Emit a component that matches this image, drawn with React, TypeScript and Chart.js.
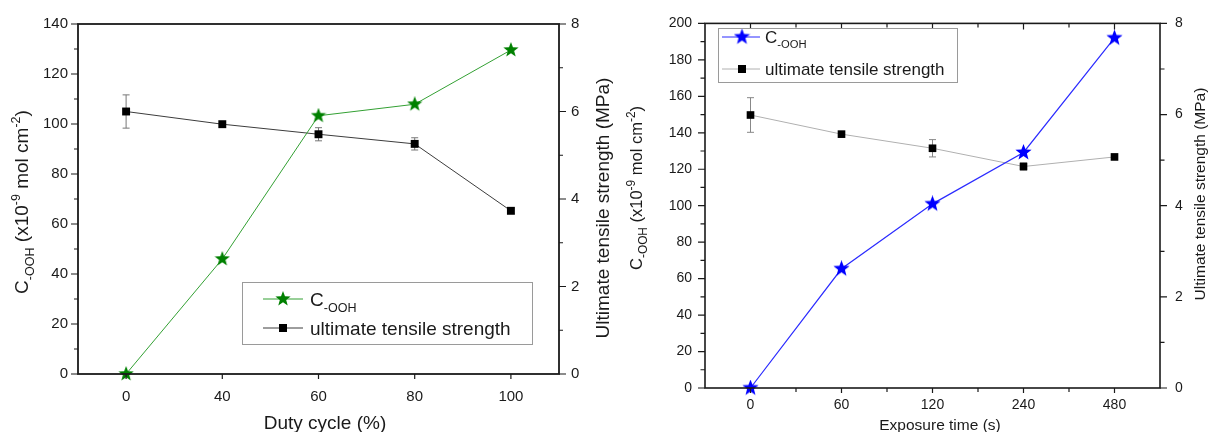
import React, { useEffect, useRef } from 'react';
import { Chart, registerables } from 'chart.js';

Chart.register(...registerables);

const FONT = '"Liberation Sans", Arial, Helvetica, sans-serif';
const TEXT = '#1a1a1a';

// ---------- Left panel data (Duty cycle) ----------
const dutyCycleLabels = ['0', '40', '60', '80', '100'];
const coohDuty = [0, 46, 103.3, 107.9, 129.6];
const utsDuty = [6.0, 5.71, 5.48, 5.26, 3.73];
const utsDutyErr = [0.38, 0, 0.15, 0.14, 0.06];

// ---------- Right panel data (Exposure time) ----------
const exposureLabels = ['0', '60', '120', '240', '480'];
const coohExposure = [0, 65.4, 101, 129.2, 192];
const utsExposure = [5.99, 5.57, 5.26, 4.86, 5.07];
const utsExposureErr = [0.38, 0, 0.19, 0.08, 0];

type Seg = { t: string; k?: 'sub' | 'sup' };
const coohAxisTitle: Seg[] = [
  { t: 'C' }, { t: '-OOH', k: 'sub' }, { t: ' (x10' }, { t: '-9', k: 'sup' },
  { t: ' mol cm' }, { t: '-2', k: 'sup' }, { t: ')' },
];
const coohLegendLabel: Seg[] = [{ t: 'C' }, { t: '-OOH', k: 'sub' }];
const utsLegendLabel: Seg[] = [{ t: 'ultimate tensile strength' }];
const utsAxisTitle: Seg[] = [{ t: 'Ultimate tensile strength (MPa)' }];
const dutyAxisTitle: Seg[] = [{ t: 'Duty cycle (%)' }];
const exposureAxisTitle: Seg[] = [{ t: 'Exposure time (s)' }];

function makeStar(size: number, color: string): HTMLCanvasElement {
  const c = document.createElement('canvas');
  c.width = size;
  c.height = size;
  const ctx = c.getContext('2d')!;
  const R = size / 2;
  const r = R * 0.42;
  ctx.beginPath();
  for (let i = 0; i < 10; i++) {
    const a = -Math.PI / 2 + (i * Math.PI) / 5;
    const rad = i % 2 === 0 ? R : r;
    ctx.lineTo(R + rad * Math.cos(a), R + rad * Math.sin(a));
  }
  ctx.closePath();
  ctx.fillStyle = color;
  ctx.fill();
  return c;
}

function drawRich(ctx: CanvasRenderingContext2D, segs: Seg[], size: number, x: number, y: number, rotate: boolean, align: 'center' | 'left' = 'center', ratio = 0.66) {
  const small = size * ratio;
  ctx.save();
  ctx.translate(x, y);
  if (rotate) ctx.rotate(-Math.PI / 2);
  ctx.fillStyle = TEXT;
  ctx.textBaseline = 'alphabetic';
  ctx.textAlign = 'left';
  const widths = segs.map((s) => {
    ctx.font = `${s.k ? small : size}px ${FONT}`;
    return ctx.measureText(s.t).width;
  });
  const total = widths.reduce((a, b) => a + b, 0);
  let cx = align === 'left' ? 0 : -total / 2;
  const base = size * 0.36;
  segs.forEach((s, i) => {
    ctx.font = `${s.k ? small : size}px ${FONT}`;
    const dy = s.k === 'sub' ? size * 0.3 : s.k === 'sup' ? -size * 0.42 : 0;
    ctx.fillText(s.t, cx, base + dy);
    cx += widths[i];
  });
  ctx.restore();
}

type LegendRow = { y: number; kind: 'star' | 'square'; color: string; line: string; segs: Seg[]; star?: HTMLCanvasElement };
type DecorCfg = {
  frameWidth: number;
  yMinor: number; yMajor: number; y1Minor: number; y1Major: number;
  majorLen: number; minorLen: number;
  xLen: number; xHalf: boolean; xHalfLen: number; topTicks: boolean; topLen: number; topHalfLen: number;
  err: { ds: number; axis: string; values: number[]; cap: number; color: string };
  titles: { segs: Seg[]; size: number; x: number; y: number; rotate: boolean; ratio?: number }[];
  legend: { x: number; y: number; w: number; h: number; lx1: number; lx2: number; sx: number; tx: number; size: number; sq: number; rows: LegendRow[] };
};

function makeDecor(cfg: DecorCfg) {
  return {
    id: 'decor',
    beforeDatasetsDraw(chart: any) {
      const { ctx } = chart;
      const e = cfg.err;
      const meta = chart.getDatasetMeta(e.ds);
      const scale = chart.scales[e.axis];
      const data = chart.data.datasets[e.ds].data as number[];
      ctx.save();
      ctx.strokeStyle = e.color;
      ctx.lineWidth = 1;
      e.values.forEach((v, i) => {
        if (!v) return;
        const x = meta.data[i].x;
        const yt = scale.getPixelForValue(data[i] + v);
        const yb = scale.getPixelForValue(data[i] - v);
        ctx.beginPath();
        ctx.moveTo(x, yt); ctx.lineTo(x, yb);
        ctx.moveTo(x - e.cap, yt); ctx.lineTo(x + e.cap, yt);
        ctx.moveTo(x - e.cap, yb); ctx.lineTo(x + e.cap, yb);
        ctx.stroke();
      });
      ctx.restore();
    },
    afterDraw(chart: any) {
      const { ctx, chartArea: a } = chart;
      const ys = chart.scales.y, y1 = chart.scales.y1, xs = chart.scales.x;
      ctx.save();
      ctx.strokeStyle = '#1a1a1a';
      ctx.lineWidth = cfg.frameWidth;
      ctx.strokeRect(a.left, a.top, a.right - a.left, a.bottom - a.top);
      ctx.lineWidth = 1.2;
      ctx.beginPath();
      for (let v = ys.min; v <= ys.max + 1e-9; v += cfg.yMinor) {
        const p = ys.getPixelForValue(v);
        const len = Math.abs(v / cfg.yMajor - Math.round(v / cfg.yMajor)) < 1e-6 ? cfg.majorLen : cfg.minorLen;
        ctx.moveTo(a.left - len, p); ctx.lineTo(a.left, p);
      }
      for (let v = y1.min; v <= y1.max + 1e-9; v += cfg.y1Minor) {
        const p = y1.getPixelForValue(v);
        const len = Math.abs(v / cfg.y1Major - Math.round(v / cfg.y1Major)) < 1e-6 ? cfg.majorLen : cfg.minorLen;
        ctx.moveTo(a.right, p); ctx.lineTo(a.right + len, p);
      }
      const n = chart.data.labels.length;
      for (let i = 0; i < n; i++) {
        const p = xs.getPixelForValue(i);
        ctx.moveTo(p, a.bottom); ctx.lineTo(p, a.bottom + cfg.xLen);
        if (cfg.topTicks) { ctx.moveTo(p, a.top); ctx.lineTo(p, a.top + cfg.topLen); }
        if (cfg.xHalf && i < n - 1) {
          const h = xs.getPixelForValue(i + 0.5);
          ctx.moveTo(h, a.bottom); ctx.lineTo(h, a.bottom + cfg.xHalfLen);
          if (cfg.topTicks) { ctx.moveTo(h, a.top); ctx.lineTo(h, a.top + cfg.topHalfLen); }
        }
      }
      ctx.stroke();

      cfg.titles.forEach((t) => drawRich(ctx, t.segs, t.size, t.x, t.y, t.rotate, 'center', t.ratio ?? 0.66));

      const L = cfg.legend;
      ctx.fillStyle = '#ffffff';
      ctx.fillRect(L.x, L.y, L.w, L.h);
      ctx.strokeStyle = '#9a9a9a';
      ctx.lineWidth = 1;
      ctx.strokeRect(L.x + 0.5, L.y + 0.5, L.w, L.h);
      L.rows.forEach((r) => {
        ctx.strokeStyle = r.line;
        ctx.lineWidth = 1;
        ctx.beginPath();
        ctx.moveTo(L.lx1, r.y); ctx.lineTo(L.lx2, r.y);
        ctx.stroke();
        if (r.kind === 'star' && r.star) {
          ctx.drawImage(r.star, L.sx - r.star.width / 2, r.y - r.star.height / 2);
        } else {
          ctx.fillStyle = r.color;
          ctx.fillRect(L.sx - L.sq / 2, r.y - L.sq / 2, L.sq, L.sq);
        }
        drawRich(ctx, r.segs, L.size, L.tx, r.y, false, 'left');
      });
      ctx.restore();
    },
  };
}

function leftConfig(): any {
  const star = makeStar(16, '#008000');
  const tickFont = { family: FONT, size: 15 };
  return {
    type: 'line',
    data: {
      labels: dutyCycleLabels,
      datasets: [
        { label: 'C-OOH', data: coohDuty, yAxisID: 'y', borderColor: '#33a033', borderWidth: 1, pointStyle: star, pointRadius: 8, pointHoverRadius: 8, clip: false, order: 0 },
        { label: 'ultimate tensile strength', data: utsDuty, yAxisID: 'y1', borderColor: '#3c3c3c', borderWidth: 1, pointStyle: 'rect', pointRadius: 5.6, pointHoverRadius: 5.6, pointBackgroundColor: '#000', pointBorderColor: '#000', pointBorderWidth: 0, clip: false, order: 1 },
      ],
    },
    options: {
      responsive: false,
      animation: false,
      events: [],
      layout: { padding: { top: 24, left: 0, right: 0, bottom: 0 } },
      plugins: { legend: { display: false }, tooltip: { enabled: false } },
      scales: {
        x: {
          type: 'category', offset: true,
          grid: { display: false, drawTicks: false }, border: { display: false },
          ticks: { font: tickFont, color: TEXT, padding: 14, maxRotation: 0 },
          afterFit: (s: any) => { s.height = 58; },
        },
        y: {
          position: 'left', min: 0, max: 140,
          grid: { display: false, drawTicks: false }, border: { display: false },
          ticks: { stepSize: 20, font: tickFont, color: TEXT, padding: 10 },
          afterFit: (s: any) => { s.width = 78; },
        },
        y1: {
          position: 'right', min: 0, max: 8,
          grid: { display: false, drawTicks: false }, border: { display: false },
          ticks: { stepSize: 2, font: tickFont, color: TEXT, padding: 12 },
          afterFit: (s: any) => { s.width = 61; },
        },
      },
    },
    plugins: [makeDecor({
      frameWidth: 1.8,
      yMinor: 10, yMajor: 20, y1Minor: 1, y1Major: 2,
      majorLen: 7, minorLen: 4,
      xLen: 5, xHalf: false, xHalfLen: 0, topTicks: false, topLen: 0, topHalfLen: 0,
      err: { ds: 1, axis: 'y1', values: utsDutyErr, cap: 3.5, color: '#777' },
      titles: [
        { segs: coohAxisTitle, size: 19, x: 21, y: 202, rotate: true },
        { segs: utsAxisTitle, size: 19, x: 602, y: 208, rotate: true },
        { segs: dutyAxisTitle, size: 19, x: 325, y: 422, rotate: false },
      ],
      legend: {
        x: 242, y: 282, w: 290, h: 62, lx1: 263, lx2: 303, sx: 283, tx: 310, size: 19, sq: 8,
        rows: [
          { y: 299, kind: 'star', color: '#008000', line: '#33a033', segs: coohLegendLabel, star },
          { y: 328, kind: 'square', color: '#000', line: '#3c3c3c', segs: utsLegendLabel },
        ],
      },
    })],
  };
}

function rightConfig(): any {
  const star = makeStar(17, '#0000ff');
  const tickFont = { family: FONT, size: 14 };
  return {
    type: 'line',
    data: {
      labels: exposureLabels,
      datasets: [
        { label: 'C-OOH', data: coohExposure, yAxisID: 'y', borderColor: '#2b2bff', borderWidth: 1.2, pointStyle: star, pointRadius: 8, pointHoverRadius: 8, clip: false, order: 0 },
        { label: 'ultimate tensile strength', data: utsExposure, yAxisID: 'y1', borderColor: '#b0b0b0', borderWidth: 1, pointStyle: 'rect', pointRadius: 5.4, pointHoverRadius: 5.4, pointBackgroundColor: '#000', pointBorderColor: '#000', pointBorderWidth: 0, clip: false, order: 1 },
      ],
    },
    options: {
      responsive: false,
      animation: false,
      events: [],
      layout: { padding: { top: 19, left: 0, right: 0, bottom: 0 } },
      plugins: { legend: { display: false }, tooltip: { enabled: false } },
      scales: {
        x: {
          type: 'category', offset: true,
          grid: { display: false, drawTicks: false }, border: { display: false },
          ticks: { font: tickFont, color: TEXT, padding: 9, maxRotation: 0 },
          afterFit: (s: any) => { s.height = 44; },
        },
        y: {
          position: 'left', min: 0, max: 200,
          grid: { display: false, drawTicks: false }, border: { display: false },
          ticks: { stepSize: 20, font: tickFont, color: TEXT, padding: 13 },
          afterFit: (s: any) => { s.width = 85; },
        },
        y1: {
          position: 'right', min: 0, max: 8,
          grid: { display: false, drawTicks: false }, border: { display: false },
          ticks: { stepSize: 2, font: tickFont, color: TEXT, padding: 15 },
          afterFit: (s: any) => { s.width = 50; },
        },
      },
    },
    plugins: [makeDecor({
      frameWidth: 1.6,
      yMinor: 10, yMajor: 20, y1Minor: 1, y1Major: 2,
      majorLen: 7, minorLen: 4.5,
      xLen: 5, xHalf: true, xHalfLen: 4, topTicks: true, topLen: 6, topHalfLen: 4,
      err: { ds: 1, axis: 'y1', values: utsExposureErr, cap: 3.5, color: '#888' },
      titles: [
        { segs: coohAxisTitle, size: 16.5, x: 16, y: 188, rotate: true, ratio: 0.72 },
        { segs: utsAxisTitle, size: 15.5, x: 579, y: 194, rotate: true },
        { segs: exposureAxisTitle, size: 15.5, x: 320, y: 424, rotate: false },
      ],
      legend: {
        x: 98, y: 28, w: 239, h: 54, lx1: 102, lx2: 140, sx: 122, tx: 145, size: 17, sq: 8,
        rows: [
          { y: 37, kind: 'star', color: '#0000ff', line: '#2b2bff', segs: coohLegendLabel, star },
          { y: 69, kind: 'square', color: '#000', line: '#b0b0b0', segs: utsLegendLabel },
        ],
      },
    })],
  };
}

function Panel({ build, left, width, height }: { build: () => any; left: number; width: number; height: number }) {
  const ref = useRef<HTMLCanvasElement>(null);
  useEffect(() => {
    const chart = new Chart(ref.current!, build());
    return () => chart.destroy();
  }, [build]);
  return (
    <canvas
      ref={ref}
      width={width}
      height={height}
      style={{ position: 'absolute', left, top: 0, width, height, display: 'block' }}
    />
  );
}

export default function App() {
  return (
    <div style={{ position: 'absolute', left: 0, top: 0, width: 1210, height: 432, background: '#fff', overflow: 'hidden' }}>
      <Panel build={leftConfig} left={0} width={620} height={432} />
      <Panel build={rightConfig} left={620} width={590} height={432} />
    </div>
  );
}
